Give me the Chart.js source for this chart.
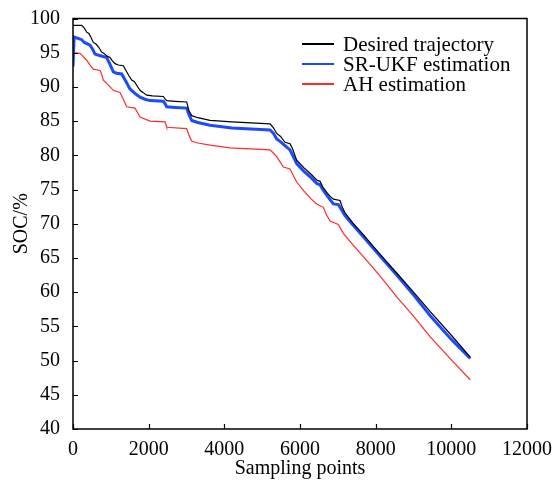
<!DOCTYPE html>
<html>
<head>
<meta charset="utf-8">
<script src="https://cdn.jsdelivr.net/npm/chart.js@4.4.1/dist/chart.umd.min.js"></script>
<style>
  html, body { margin: 0; padding: 0; background: #fff; }
  #wrap { width: 555px; height: 481px; }
</style>
</head>
<body>
<div id="wrap"><canvas id="c" width="555" height="481"></canvas></div>
<script>
// ---- Data ----
const seriesLabels = ['Desired trajectory', 'SR-UKF estimation', 'AH estimation'];

const desiredX = [0, 230, 300, 362, 420, 480, 537, 600, 680, 758, 820, 900, 978, 1040, 1110, 1200, 1330, 1400, 1470, 1551, 1620, 1700, 1771, 1850, 1947, 2100, 2388, 2440, 2476, 2700, 3005, 3060, 3137, 3300, 3621, 4200, 5207, 5300, 5384, 5480, 5604, 5736, 5800, 5912, 6100, 6300, 6441, 6529, 6600, 6706, 6800, 6882, 7058, 7120, 7190, 7400, 7674, 8000, 8300, 8556, 9000, 9437, 10000, 10500];
const desiredY = [99.0, 99.0, 98.6, 98.0, 97.8, 97.2, 96.5, 96.3, 95.8, 95.1, 94.9, 94.5, 94.3, 93.8, 93.4, 93.2, 93.1, 92.4, 91.7, 91.0, 90.8, 90.1, 89.5, 89.2, 88.8, 88.7, 88.6, 88.2, 88.0, 87.9, 87.8, 86.6, 85.8, 85.5, 85.1, 84.9, 84.6, 84.0, 83.2, 82.8, 81.9, 81.7, 81.0, 79.3, 78.2, 77.2, 76.4, 76.2, 75.4, 74.6, 74.0, 73.6, 73.4, 72.4, 71.6, 70.1, 68.4, 66.3, 64.4, 62.8, 60.0, 57.2, 53.7, 50.5];

const ukfX = [0, 30, 230, 300, 449, 520, 581, 700, 890, 960, 1066, 1150, 1287, 1400, 1507, 1650, 1771, 1900, 2035, 2388, 2440, 2476, 2700, 3005, 3060, 3137, 3300, 3621, 4200, 5207, 5300, 5384, 5480, 5648, 5736, 5912, 6100, 6300, 6441, 6529, 6600, 6706, 6800, 6882, 7014, 7100, 7190, 7400, 7674, 8000, 8300, 8556, 9000, 9437, 10000, 10500];
const ukfY = [93.0, 97.3, 96.9, 96.5, 96.1, 95.5, 94.8, 94.6, 94.3, 93.5, 92.2, 92.0, 91.9, 90.8, 89.7, 89.0, 88.5, 88.2, 88.0, 87.9, 87.5, 87.1, 87.0, 86.9, 86.0, 85.1, 84.8, 84.4, 84.0, 83.7, 83.2, 82.4, 82.0, 81.2, 80.8, 78.8, 77.7, 76.7, 75.9, 75.7, 75.0, 74.2, 73.5, 72.9, 72.8, 72.0, 71.2, 69.8, 68.1, 66.0, 64.1, 62.5, 59.6, 56.6, 53.1, 50.3];

const ahX = [0, 185, 260, 362, 450, 537, 714, 760, 802, 950, 1066, 1242, 1330, 1419, 1639, 1700, 1771, 2035, 2432, 2460, 2476, 3005, 3060, 3137, 3300, 3621, 4150, 5207, 5300, 5384, 5560, 5736, 5912, 6100, 6300, 6441, 6617, 6700, 6794, 7014, 7146, 7400, 7674, 8000, 8300, 8556, 9000, 9437, 10000, 10500];
const ahY = [95.0, 94.9, 94.5, 93.9, 93.2, 92.6, 92.4, 91.8, 91.0, 90.2, 89.5, 89.2, 88.2, 87.1, 86.9, 86.3, 85.6, 85.0, 84.9, 84.4, 84.1, 83.9, 83.0, 82.1, 81.8, 81.5, 81.1, 80.8, 80.3, 79.8, 78.3, 78.0, 76.1, 74.8, 73.6, 72.9, 72.4, 71.3, 70.4, 69.9, 68.6, 66.9, 65.2, 63.1, 61.1, 59.3, 56.5, 53.5, 50.1, 47.2];

const xTicks = [0, 2000, 4000, 6000, 8000, 10000, 12000];
const yTicks = [40, 45, 50, 55, 60, 65, 70, 75, 80, 85, 90, 95, 100];

const seriesColors = ['#000000', '#1c4bff', '#ff2a2a'];
const seriesWidths = [1.2, 3, 1.2];

const FONT = "'Liberation Serif', 'Times New Roman', serif";

function pairs(xs, ys) { return xs.map((x, i) => ({ x: x, y: ys[i] })); }

const frameAndTicks = {
  id: 'frameAndTicks',
  afterDraw(chart) {
    const ctx = chart.ctx, a = chart.chartArea;
    const xs = chart.scales.x, ys = chart.scales.y;
    ctx.save();
    ctx.strokeStyle = '#000';
    ctx.lineWidth = 1.5;
    ctx.strokeRect(a.left, a.top, a.right - a.left, a.bottom - a.top);
    ctx.lineWidth = 1.2;
    ctx.beginPath();
    xTicks.forEach(v => {
      const p = Math.round(xs.getPixelForValue(v)) + 0.5;
      ctx.moveTo(p, a.bottom); ctx.lineTo(p, a.bottom - 5);
    });
    yTicks.forEach(v => {
      const p = Math.round(ys.getPixelForValue(v)) + 0.5;
      ctx.moveTo(a.left, p); ctx.lineTo(a.left + 5, p);
    });
    ctx.stroke();
    // legend
    ctx.font = '21px ' + FONT;
    ctx.textBaseline = 'middle';
    ctx.textAlign = 'left';
    chart.data.datasets.forEach((ds, i) => {
      const y = 44 + i * 20;
      ctx.strokeStyle = ds.borderColor;
      ctx.lineWidth = 2;
      ctx.beginPath();
      ctx.moveTo(302, y); ctx.lineTo(334, y);
      ctx.stroke();
      ctx.fillStyle = '#000';
      ctx.fillText(ds.label, 343, y + 1);
    });
    ctx.restore();
  }
};

new Chart(document.getElementById('c'), {
  type: 'scatter',
  data: {
    datasets: [
      { label: seriesLabels[0], data: pairs(desiredX, desiredY) },
      { label: seriesLabels[1], data: pairs(ukfX, ukfY) },
      { label: seriesLabels[2], data: pairs(ahX, ahY) }
    ].map((d, i) => Object.assign(d, {
      showLine: true,
      borderColor: seriesColors[i],
      backgroundColor: seriesColors[i],
      borderWidth: seriesWidths[i],
      pointRadius: 0,
      tension: 0,
      fill: false,
      order: i
    }))
  },
  options: {
    responsive: false,
    animation: false,
    devicePixelRatio: 1,
    layout: { padding: { left: 0, right: 28, top: 18.5, bottom: 0 } },
    plugins: { legend: { display: false }, tooltip: { enabled: false } },
    scales: {
      x: {
        type: 'linear',
        min: 0, max: 12000,
        afterBuildTicks: s => { s.ticks = xTicks.map(v => ({ value: v })); },
        afterFit: s => { s.height = 52; },
        grid: { display: false },
        border: { display: false },
        ticks: { color: '#000', font: { family: FONT, size: 20 }, padding: 1, maxRotation: 0, autoSkip: false, callback: v => String(v) },
        title: { display: true, text: 'Sampling points', color: '#000', font: { family: FONT, size: 20 }, padding: { top: 0, bottom: 0 } }
      },
      y: {
        type: 'linear',
        min: 40, max: 100,
        afterBuildTicks: s => { s.ticks = yTicks.map(v => ({ value: v })); },
        afterFit: s => { s.width = 73; },
        grid: { display: false },
        border: { display: false },
        ticks: { color: '#000', font: { family: FONT, size: 20 }, padding: 5, autoSkip: false, callback: v => String(v) },
        title: { display: true, text: 'SOC/%', color: '#000', font: { family: FONT, size: 20 }, padding: { top: 10, bottom: 0 } }
      }
    }
  },
  plugins: [frameAndTicks]
});
</script>
</body>
</html>
